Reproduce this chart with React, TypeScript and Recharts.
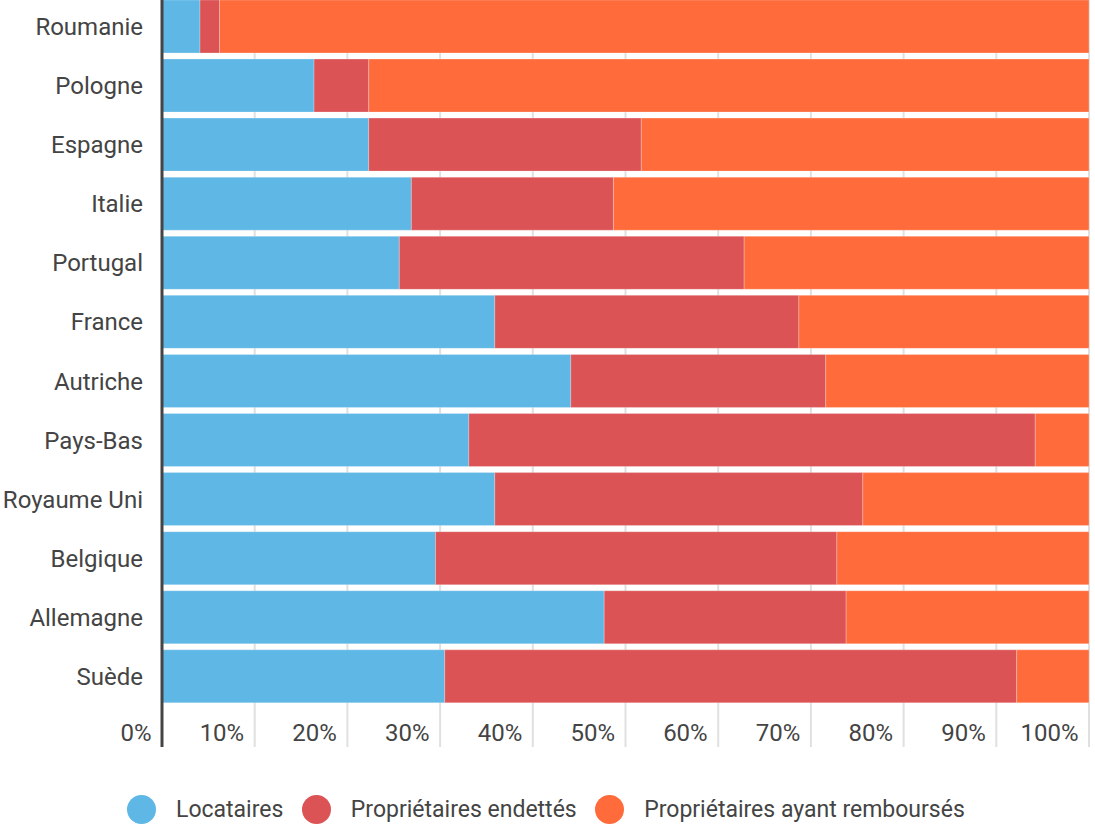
import React from "react";
import { BarChart, Bar, XAxis, YAxis, CartesianGrid } from "recharts";

const countries = [
  "Roumanie",
  "Pologne",
  "Espagne",
  "Italie",
  "Portugal",
  "France",
  "Autriche",
  "Pays-Bas",
  "Royaume Uni",
  "Belgique",
  "Allemagne",
  "Suède",
];
const locataires = [4.1, 16.4, 22.3, 26.9, 25.6, 35.9, 44.1, 33.1, 35.9, 29.5, 47.7, 30.5];
const endettes = [2.1, 5.9, 29.4, 21.8, 37.2, 32.8, 27.5, 61.1, 39.7, 43.3, 26.1, 61.7];
const rembourses = [93.8, 77.7, 48.3, 51.3, 37.2, 31.3, 28.4, 5.8, 24.4, 27.2, 26.2, 7.8];
const xTicks = [0, 10, 20, 30, 40, 50, 60, 70, 80, 90, 100];

const seriesNames = ["Locataires", "Propriétaires endettés", "Propriétaires ayant remboursés"];
const seriesColors = ["#5EB7E5", "#DC5356", "#FF6B3B"];

const data = countries.map((name, i) => ({
  name,
  loc: locataires[i],
  end: endettes[i],
  rem: rembourses[i],
}));

const TEXT = "#444";
const FONT = "Roboto, 'Noto Sans', sans-serif";

const XTick = (props: any) => {
  const { x, y, payload, index } = props;
  const first = index === 0;
  return (
    <g>
      <line
        x1={x}
        x2={x}
        y1={y}
        y2={y + 41}
        stroke={first ? TEXT : "#e0e0e0"}
        strokeWidth={first ? 3 : 2}
      />
      <text
        x={x - 10.5}
        y={y + 35}
        textAnchor="end"
        fill={TEXT}
        fontSize={24}
        fontFamily={FONT}
      >
        {payload.value}%
      </text>
    </g>
  );
};

export default function App() {
  return (
    <div
      style={{
        position: "absolute",
        left: 0,
        top: 0,
        width: 1095,
        height: 827,
        background: "#fff",
        fontFamily: FONT,
      }}
    >
      <BarChart
        width={1095}
        height={747}
        data={data}
        layout="vertical"
        barCategoryGap="5%"
        margin={{ top: -3, right: 6, left: 0, bottom: 0 }}
      >
        <CartesianGrid horizontal={false} stroke="#e0e0e0" strokeWidth={2} />
        <XAxis
          type="number"
          domain={[0, 100]}
          ticks={xTicks}
          height={41}
          axisLine={false}
          tickLine={false}
          tickSize={0}
          tickMargin={0}
          tick={<XTick />}
          interval={0}
        />
        <Bar dataKey="loc" stackId="a" fill={seriesColors[0]} stroke="rgba(255,255,255,0.35)" strokeWidth={0.7} isAnimationActive={false} name={seriesNames[0]} />
        <Bar dataKey="end" stackId="a" fill={seriesColors[1]} stroke="rgba(255,255,255,0.35)" strokeWidth={0.7} isAnimationActive={false} name={seriesNames[1]} />
        <Bar dataKey="rem" stackId="a" fill={seriesColors[2]} stroke="rgba(255,255,255,0.35)" strokeWidth={0.7} isAnimationActive={false} name={seriesNames[2]} />
        <YAxis
          type="category"
          dataKey="name"
          width={162}
          tickLine={false}
          tickSize={0}
          tickMargin={19}
          axisLine={{ stroke: TEXT, strokeWidth: 3 }}
          tick={{ fill: TEXT, fontSize: 24, fontFamily: FONT }}
          interval={0}
        />
      </BarChart>
      <div
        style={{
          position: "absolute",
          top: 795,
          left: 127,
          display: "flex",
          alignItems: "center",
          height: 29,
        }}
      >
        {seriesNames.map((n, i) => (
          <div
            key={n}
            style={{ display: "flex", alignItems: "center", marginLeft: i === 0 ? 0 : 18.5 }}
          >
            <span
              style={{
                display: "inline-block",
                width: 29,
                height: 29,
                borderRadius: "50%",
                background: seriesColors[i],
                marginRight: 20,
              }}
            />
            <span style={{ fontSize: 23, color: TEXT, lineHeight: "29px", whiteSpace: "nowrap" }}>{n}</span>
          </div>
        ))}
      </div>
    </div>
  );
}
